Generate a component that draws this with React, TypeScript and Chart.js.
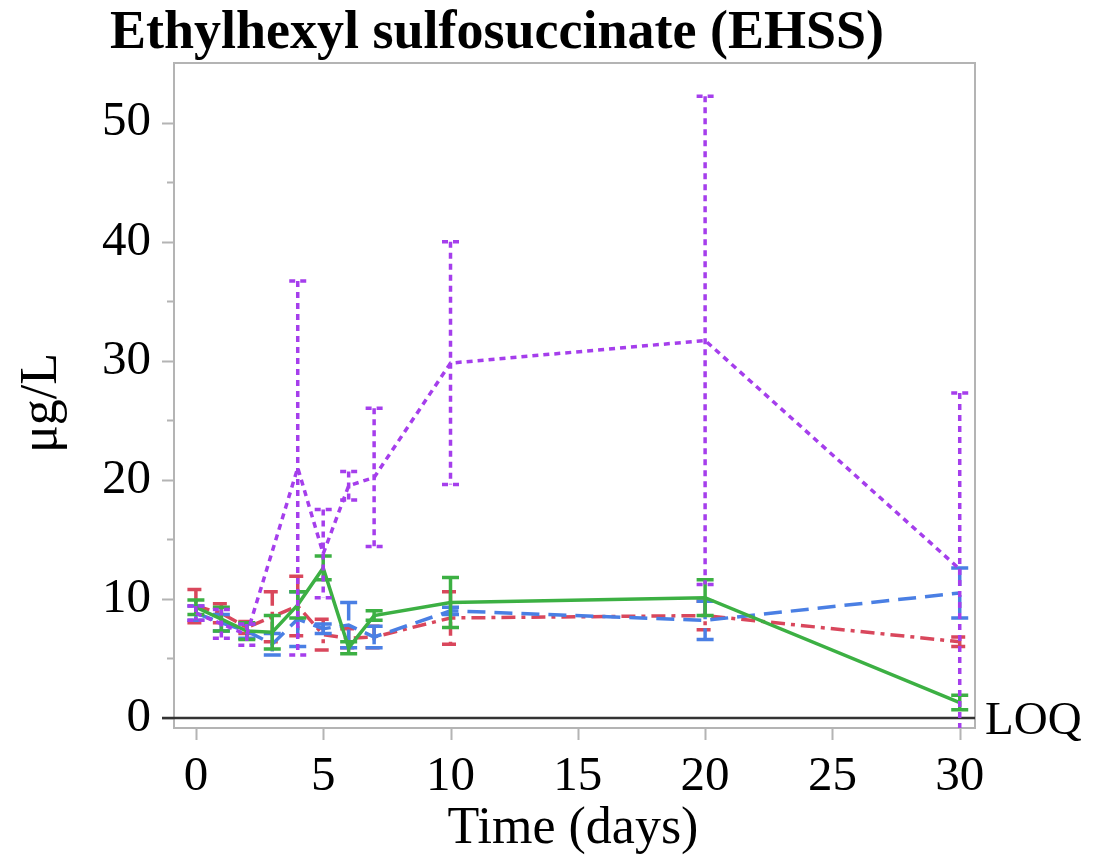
import React, { useEffect, useRef } from 'react';
import { Chart, registerables } from 'chart.js';

Chart.register(...registerables);

const titleText = 'Ethylhexyl sulfosuccinate (EHSS)';
const xTitle = 'Time (days)';
const yTitle = 'μg/L';
const loqLabel = 'LOQ';

const days = [0, 1, 2, 3, 4, 5, 6, 7, 10, 20, 30];
const xTicks = [0, 5, 10, 15, 20, 25, 30];
const yMajorTicks = [0, 10, 20, 30, 40, 50];
const yMinorTicks = [5, 15, 25, 35, 45];

const redMean = [9.4, 8.8, 7.6, 8.5, 9.4, 7.0, 6.7, 6.8, 8.4, 8.6, 6.4];
const redErr = [1.4, 0.8, 0.5, 2.1, 2.5, 1.3, 0.8, 0.9, 2.2, 1.2, 0.4];

const blueMean = [8.8, 8.0, 7.3, 6.2, 8.3, 7.5, 7.8, 6.8, 9.0, 8.2, 10.5];
const blueErr = [0.6, 0.7, 0.6, 0.9, 2.3, 0.4, 1.9, 0.9, 0.3, 1.6, 2.1];

const greenMean = [9.3, 8.3, 7.3, 7.2, 9.5, 12.6, 5.9, 8.6, 9.7, 10.1, 1.3];
const greenErr = [0.6, 1.0, 0.7, 1.4, 1.1, 1.0, 0.5, 0.4, 2.1, 1.5, 0.6];

const purpleMean = [8.8, 7.9, 7.0, null, 21.0, 13.8, 19.5, 20.2, 29.8, 31.7, 12.5];
const purpleErr = [0.6, 1.2, 0.9, null, 15.7, 3.7, 1.2, 5.8, 10.2, 20.5, 14.8];

const SERIF = '"Liberation Serif", "Times New Roman", serif';

function toPoints(means: (number | null)[]) {
  return days.map((d, i) => ({ x: d, y: means[i] }));
}

const errorBarPlugin = {
  id: 'errorBars',
  afterDatasetDraw(chart: any, args: any) {
    const ds: any = chart.data.datasets[args.index];
    const errs: (number | null)[] = ds.errs;
    if (!errs) return;
    const { ctx, chartArea, scales } = chart;
    const xs = scales.x;
    const ys = scales.y;
    ctx.save();
    ctx.beginPath();
    ctx.rect(chartArea.left, chartArea.top, chartArea.right - chartArea.left, chartArea.bottom - chartArea.top);
    ctx.clip();
    ctx.strokeStyle = ds.borderColor;
    ctx.lineWidth = ds.borderWidth;
    ctx.setLineDash(ds.borderDash || []);
    ctx.lineCap = 'butt';
    const capHalf = 8.5;
    ds.data.forEach((p: any, i: number) => {
      const e = errs[i];
      if (p.y === null || e === null || e === undefined) return;
      const px = xs.getPixelForValue(p.x);
      const top = ys.getPixelForValue(p.y + e);
      const bot = ys.getPixelForValue(p.y - e);
      ctx.beginPath();
      ctx.moveTo(px, top);
      ctx.lineTo(px, bot);
      ctx.stroke();
      ctx.beginPath();
      ctx.moveTo(px - capHalf, top);
      ctx.lineTo(px + capHalf, top);
      ctx.moveTo(px - capHalf, bot);
      ctx.lineTo(px + capHalf, bot);
      ctx.stroke();
    });
    ctx.restore();
  },
};

const framePlugin = {
  id: 'frame',
  beforeDatasetsDraw(chart: any) {
    const { ctx, chartArea, scales } = chart;
    const xs = scales.x;
    const ys = scales.y;
    ctx.save();
    ctx.strokeStyle = '#b4b4b4';
    ctx.lineWidth = 2;
    ctx.strokeRect(chartArea.left, chartArea.top, chartArea.right - chartArea.left, chartArea.bottom - chartArea.top);
    ctx.beginPath();
    yMajorTicks.forEach((v) => {
      const py = Math.round(ys.getPixelForValue(v)) + 0.5;
      ctx.moveTo(chartArea.left - 12, py);
      ctx.lineTo(chartArea.left, py);
    });
    yMinorTicks.forEach((v) => {
      const py = Math.round(ys.getPixelForValue(v)) + 0.5;
      ctx.moveTo(chartArea.left - 7, py);
      ctx.lineTo(chartArea.left, py);
    });
    xTicks.forEach((v) => {
      const px = Math.round(xs.getPixelForValue(v)) + 0.5;
      ctx.moveTo(px, chartArea.bottom);
      ctx.lineTo(px, chartArea.bottom + 12);
    });
    ctx.stroke();
    const py0 = ys.getPixelForValue(0);
    ctx.strokeStyle = '#333333';
    ctx.lineWidth = 2.5;
    ctx.beginPath();
    ctx.moveTo(chartArea.left - 12, py0);
    ctx.lineTo(chartArea.right, py0);
    ctx.stroke();
    ctx.restore();
  },
  afterDraw(chart: any) {
    const { ctx, scales } = chart;
    const ys = scales.y;
    ctx.save();
    ctx.fillStyle = '#000';
    ctx.textBaseline = 'alphabetic';
    ctx.textAlign = 'left';
    ctx.font = `bold 54px ${SERIF}`;
    ctx.fillText(titleText, 110, 48);
    ctx.font = `52px ${SERIF}`;
    ctx.textAlign = 'center';
    ctx.fillText(xTitle, 573, 843);
    ctx.save();
    ctx.translate(56, 403);
    ctx.rotate(-Math.PI / 2);
    ctx.fillText(yTitle, 0, 0);
    ctx.restore();
    ctx.textAlign = 'left';
    ctx.font = `47px ${SERIF}`;
    ctx.fillText(loqLabel, 985, ys.getPixelForValue(0) + 16);
    ctx.restore();
  },
};

export default function App() {
  const canvasRef = useRef<HTMLCanvasElement | null>(null);

  useEffect(() => {
    document.body.style.margin = '0';
    const canvas = canvasRef.current;
    if (!canvas) return;
    const chart = new Chart(canvas, {
      type: 'line',
      data: {
        datasets: [
          {
            label: 'purple',
            data: toPoints(purpleMean),
            errs: purpleErr,
            borderColor: '#a53eec',
            borderWidth: 3.5,
            borderDash: [6, 5],
            pointRadius: 0,
            spanGaps: true,
            order: 0,
          } as any,
          {
            label: 'green',
            data: toPoints(greenMean),
            errs: greenErr,
            borderColor: '#3cb043',
            borderWidth: 3.5,
            borderDash: [],
            pointRadius: 0,
            order: 1,
          } as any,
          {
            label: 'blue',
            data: toPoints(blueMean),
            errs: blueErr,
            borderColor: '#4a7fe4',
            borderWidth: 3.5,
            borderDash: [18, 9],
            pointRadius: 0,
            order: 2,
          } as any,
          {
            label: 'red',
            data: toPoints(redMean),
            errs: redErr,
            borderColor: '#d9475c',
            borderWidth: 3.5,
            borderDash: [14, 6, 4, 6],
            pointRadius: 0,
            order: 3,
          } as any,
        ],
      },
      options: {
        animation: false,
        responsive: false,
        maintainAspectRatio: false,
        layout: { padding: { left: 0, right: 134, top: 63, bottom: 0 } },
        plugins: {
          legend: { display: false },
          title: { display: false },
          tooltip: { enabled: false },
        },
        elements: { line: { tension: 0 } },
        scales: {
          x: {
            type: 'linear',
            min: -0.86,
            max: 30.6,
            grid: { display: false },
            border: { display: false },
            ticks: {
              stepSize: 5,
              includeBounds: false,
              padding: 12,
              color: '#000',
              font: { family: SERIF, size: 49 },
              maxRotation: 0,
              autoSkip: false,
            },
            afterFit: (s: any) => {
              s.height = 137;
            },
          },
          y: {
            type: 'linear',
            min: -0.84,
            max: 55,
            grid: { display: false },
            border: { display: false },
            ticks: {
              stepSize: 10,
              includeBounds: false,
              padding: 15,
              color: '#000',
              font: { family: SERIF, size: 49 },
              autoSkip: false,
            },
            afterFit: (s: any) => {
              s.width = 174;
            },
          },
        },
      } as any,
      plugins: [framePlugin, errorBarPlugin],
    });
    return () => chart.destroy();
  }, []);

  return (
    <div style={{ width: 1109, height: 865 }}>
      <canvas ref={canvasRef} width={1109} height={865} style={{ display: 'block' }} />
    </div>
  );
}
